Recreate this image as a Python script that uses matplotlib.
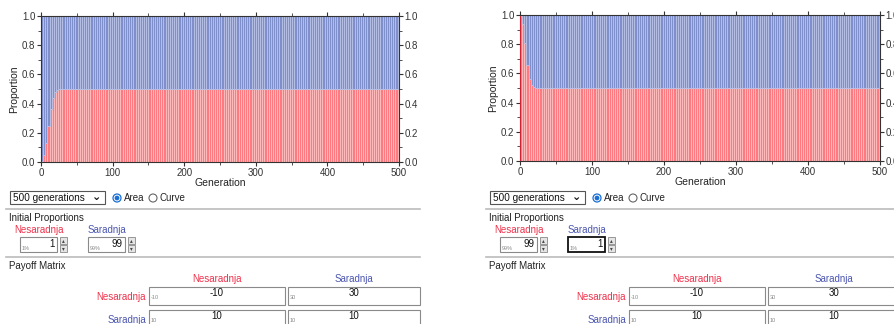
import numpy as np
import matplotlib
matplotlib.use("Agg")
import matplotlib.pyplot as plt
from matplotlib.patches import Rectangle, Circle

plt.rcParams['font.family'] = ['Liberation Sans', 'DejaVu Sans']

# --- dados ---
strategies = ["Nesaradnja", "Saradnja"]
n_generations = 500

# proporcao de Nesaradnja nas primeiras geracoes
left_red_start = [0.01, 0.02, 0.03, 0.05, 0.07, 0.10, 0.13, 0.17, 0.21, 0.25,
                  0.29, 0.33, 0.36, 0.39, 0.42, 0.44, 0.455, 0.467, 0.477, 0.484,
                  0.489, 0.492, 0.494, 0.496, 0.497, 0.498, 0.499]
right_red_start = [0.99, 0.98, 0.965, 0.94, 0.90, 0.86, 0.81, 0.76, 0.71, 0.66,
                   0.62, 0.59, 0.565, 0.547, 0.533, 0.522, 0.514, 0.509, 0.505,
                   0.503, 0.502, 0.501]
equilibrium = 0.5

left_initial = [1, 99]
right_initial = [99, 1]
payoff = [[-10, 30], [10, 10]]
generations_option = "500 generations"

RED = "#fd7b80"
RED_LIGHT = "#ffc2c2"
BLUE = "#7f8fcc"
BLUE_LIGHT = "#bcc4e8"
RED_TXT = "#f0304a"
BLUE_TXT = "#4a55b0"

W, H = 895, 324
fig = plt.figure(figsize=(W / 100, H / 100), dpi=100)


def pos(x0, y0, x1, y1):
    return [x0 / W, 1 - y1 / H, (x1 - x0) / W, (y1 - y0) / H]


def serie(start):
    vals = list(start) + [equilibrium] * (n_generations + 1 - len(start))
    return np.array(vals)


def grafico(rect, red_start, left_spine_color):
    ax = fig.add_axes(rect)
    gens = np.arange(n_generations + 1)
    red = serie(red_start)
    step = 3
    g = gens[::step]
    r = red[::step]
    ax.bar(g, r, width=step, align='edge', color=RED, edgecolor=RED_LIGHT, linewidth=0.55)
    ax.bar(g, 1 - r, bottom=r, width=step, align='edge', color=BLUE, edgecolor=BLUE_LIGHT, linewidth=0.55)
    ax.set_xlim(0, n_generations)
    ax.set_ylim(0, 1)
    ax.set_xticks(range(0, 501, 100))
    ax.set_xticks(range(0, 501, 50), minor=True)
    ax.set_yticks(np.arange(0, 1.01, 0.2))
    ax.set_yticks(np.arange(0, 1.01, 0.1), minor=True)
    ax.tick_params(which='both', direction='out', top=True, right=True, labelright=True,
                   labelsize=7, colors='#333333', pad=1)
    ax.tick_params(which='major', length=3)
    ax.tick_params(which='minor', length=2)
    ax.yaxis.set_major_formatter(matplotlib.ticker.FormatStrFormatter('%.1f'))
    for s in ax.spines.values():
        s.set_color('#333333')
        s.set_linewidth(0.8)
    ax.spines['left'].set_color(left_spine_color)
    ax.set_xlabel("Generation", fontsize=7.5, labelpad=0, color='#222222')
    ax.set_ylabel("Proportion", fontsize=7.5, labelpad=2, color='#222222')
    return ax


grafico(pos(41, 16, 399, 162), left_red_start, '#333333')
grafico(pos(520, 15, 880, 161), right_red_start, '#d42030')

# camada de interface (coordenadas em pixels)
ui = fig.add_axes([0, 0, 1, 1])
ui.set_xlim(0, W)
ui.set_ylim(H, 0)
ui.axis('off')
ui.patch.set_alpha(0)

FS = 7


def caixa(x, y, w, h, ec='#8a8a8a', lw=0.8):
    ui.add_patch(Rectangle((x, y), w, h, fill=False, ec=ec, lw=lw))


def painel(ox, initial, focus_second):
    # dropdown e radios
    caixa(ox + 10, 191, 95, 13, ec='#555555')
    ui.text(ox + 13, 198, generations_option, fontsize=7.2, va='center', color='#111111')
    ui.text(ox + 97, 196.5, "\u2304", fontsize=8, va='center', ha='center', color='#111111',
            fontweight='bold')
    ui.add_patch(Circle((ox + 117, 198), 4, fc='white', ec='#1a6fd6', lw=0.9))
    ui.add_patch(Circle((ox + 117, 198), 2.4, fc='#1a6fd6', ec='none'))
    ui.text(ox + 124, 198, "Area", fontsize=FS, va='center', color='#222222')
    ui.add_patch(Circle((ox + 153, 198), 4, fc='white', ec='#666666', lw=0.8))
    ui.text(ox + 160, 198, "Curve", fontsize=FS, va='center', color='#222222')
    ui.plot([ox + 6, ox + 420], [209, 209], color='#bbbbbb', lw=1.2)

    ui.text(ox + 9, 218, "Initial Proportions", fontsize=FS, va='center', color='#222222')
    for i, (name, col, bx) in enumerate(zip(strategies, [RED_TXT, BLUE_TXT], [20, 88])):
        ui.text(ox + bx + 19, 230, name, fontsize=FS, va='center', ha='center', color=col)
        focus = focus_second and i == 1
        caixa(ox + bx, 237, 37, 15, ec='#111111' if focus else '#8a8a8a', lw=1.3 if focus else 0.8)
        ui.text(ox + bx + 35, 244, str(initial[i]), fontsize=FS, va='center', ha='right', color='#111111')
        ui.text(ox + bx + 2, 248.5, f"{initial[i]}%", fontsize=4, va='center', color='#888888')
        ui.add_patch(Rectangle((ox + bx + 40, 237), 7, 7, fc='#e5e5e5', ec='#888888', lw=0.6))
        ui.add_patch(Rectangle((ox + bx + 40, 245), 7, 7, fc='#e5e5e5', ec='#888888', lw=0.6))
        ui.text(ox + bx + 43.5, 240.5, "\u25b4", fontsize=4, ha='center', va='center', color='#444444')
        ui.text(ox + bx + 43.5, 248.5, "\u25be", fontsize=4, ha='center', va='center', color='#444444')
    ui.plot([ox + 6, ox + 420], [257, 257], color='#bbbbbb', lw=1.2)

    ui.text(ox + 9, 266, "Payoff Matrix", fontsize=FS, va='center', color='#222222')
    cols = [(149, 285), (288, 420)]
    for j, (name, col) in enumerate(zip(strategies, [RED_TXT, BLUE_TXT])):
        cx = (cols[j][0] + cols[j][1]) / 2
        ui.text(ox + cx, 279, name, fontsize=FS, va='center', ha='center', color=col)
    rows_y = [287, 310]
    for i, (name, col) in enumerate(zip(strategies, [RED_TXT, BLUE_TXT])):
        y = rows_y[i]
        ui.text(ox + 146, y + 10, name, fontsize=FS, va='center', ha='right', color=col)
        for j in range(2):
            x0, x1 = cols[j]
            caixa(ox + x0, y, x1 - x0, 18)
            ui.text(ox + (x0 + x1) / 2, y + 6, str(payoff[i][j]), fontsize=FS, va='center',
                    ha='center', color='#111111')
            ui.text(ox + x0 + 2, y + 10.5, str(payoff[i][j]), fontsize=4, va='center', color='#888888')


painel(0, left_initial, False)
painel(480, right_initial, True)

fig.savefig("out.png", dpi=100)
